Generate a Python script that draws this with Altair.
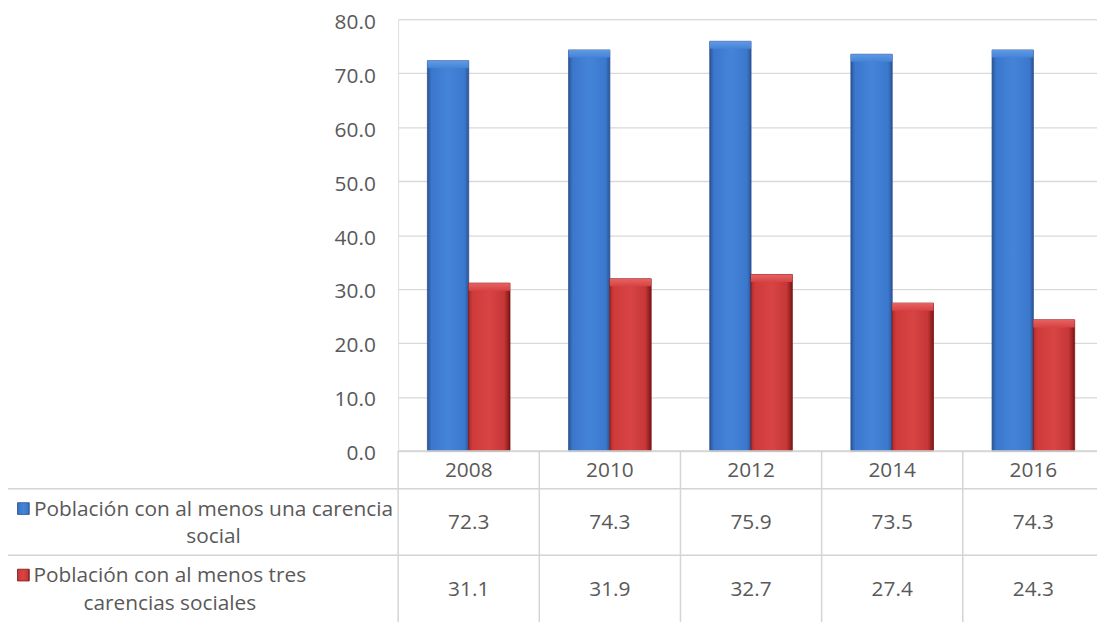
import altair as alt
import pandas as pd

# ---------------- data ----------------
years = ["2008", "2010", "2012", "2014", "2016"]
series_keys = ["s1", "s2"]
series_labels = [
    "Población con al menos una carencia\nsocial",
    "Población con al menos tres\ncarencias sociales",
]
values_una = [72.3, 74.3, 75.9, 73.5, 74.3]
values_tres = [31.1, 31.9, 32.7, 27.4, 24.3]
y_ticks = [0, 10, 20, 30, 40, 50, 60, 70, 80]

rows = []
for yr, a, b in zip(years, values_una, values_tres):
    rows.append({"year": yr, "serie": "s1", "value": a, "label": f"{a:.1f}"})
    rows.append({"year": yr, "serie": "s2", "value": b, "label": f"{b:.1f}"})
df = pd.DataFrame(rows)
df_years = pd.DataFrame({"year": years})

# ---------------- style ----------------
FONT = "Open Sans"
TXT = "#595959"
GRID = "#d9d9d9"
FS = 21

W, H = 704, 435
STEP_RANGE = [0, 711]

blue_body = {
    "gradient": "linear", "x1": 0, "x2": 1, "y1": 0, "y2": 0,
    "stops": [
        {"offset": 0.0, "color": "#2a5596"},
        {"offset": 0.1, "color": "#3b77cc"},
        {"offset": 0.5, "color": "#4484d8"},
        {"offset": 0.9, "color": "#3b78cd"},
        {"offset": 1.0, "color": "#2b5598"},
    ],
}
blue_cap = {
    "gradient": "linear", "x1": 0, "x2": 0, "y1": 0, "y2": 1,
    "stops": [
        {"offset": 0.0, "color": "#6199e4"},
        {"offset": 1.0, "color": "#4483d7"},
    ],
}
red_body = {
    "gradient": "linear", "x1": 0, "x2": 1, "y1": 0, "y2": 0,
    "stops": [
        {"offset": 0.0, "color": "#b42a2a"},
        {"offset": 0.1, "color": "#cf3b3b"},
        {"offset": 0.5, "color": "#d84444"},
        {"offset": 0.86, "color": "#c63737"},
        {"offset": 1.0, "color": "#7d1515"},
    ],
}
red_cap = {
    "gradient": "linear", "x1": 0, "x2": 0, "y1": 0, "y2": 1,
    "stops": [
        {"offset": 0.0, "color": "#e86262"},
        {"offset": 1.0, "color": "#d64343"},
    ],
}

x_enc = alt.X(
    "year:N", sort=years, axis=None,
    scale=alt.Scale(range=STEP_RANGE, paddingInner=0, paddingOuter=0),
)
xoff_enc = alt.XOffset(
    "serie:N", sort=series_keys,
    scale=alt.Scale(domain=series_keys, paddingInner=0, paddingOuter=0.709),
)
y_enc = alt.Y(
    "value:Q",
    scale=alt.Scale(domain=[0, 80], nice=False),
    axis=alt.Axis(
        values=y_ticks, format=".1f", title=None, domain=False, ticks=False,
        labelPadding=23, labelOffset=3, labelFont=FONT, labelFontSize=FS,
        labelColor=TXT, gridColor=GRID, gridWidth=1.3,
    ),
)

base = alt.Chart(df)

bars_blue = base.transform_filter(alt.datum.serie == "s1").mark_bar(
    color=blue_body, stroke="#2c4f8c", strokeWidth=0.8
).encode(x=x_enc, xOffset=xoff_enc, y=y_enc)

bars_red = base.transform_filter(alt.datum.serie == "s2").mark_bar(
    color=red_body, stroke="#7a1414", strokeWidth=0.8
).encode(x=x_enc, xOffset=xoff_enc, y=y_enc)

cap_blue = base.transform_filter(alt.datum.serie == "s1").transform_calculate(
    cap="datum.value - 1.4"
).mark_bar(color=blue_cap).encode(
    x=x_enc, xOffset=xoff_enc, y=alt.Y("value:Q"), y2="cap:Q"
)
cap_red = base.transform_filter(alt.datum.serie == "s2").transform_calculate(
    cap="datum.value - 1.4"
).mark_bar(color=red_cap).encode(
    x=x_enc, xOffset=xoff_enc, y=alt.Y("value:Q"), y2="cap:Q"
)

# ---------------- data table ----------------
Y_TOP = 435      # plot bottom (0 line)
Y_HDR = 473      # bottom of year header row
Y_R1 = 540       # bottom of first series row
Y_BOT = 610      # bottom edge (cropped)
X_LEFT = -394    # left border of label column
LINE = "#d4d4d4"

vlines = alt.Chart(df_years).mark_rule(color=LINE, strokeWidth=1.5).encode(
    x=alt.X("year:N", sort=years, bandPosition=0),
    y=alt.value(Y_TOP), y2=alt.value(Y_BOT),
)
vline_left = alt.Chart(df_years.head(1)).mark_rule(color=LINE, strokeWidth=1.5).encode(
    x=alt.value(X_LEFT), y=alt.value(Y_HDR), y2=alt.value(Y_BOT),
)
hline_top = alt.Chart(df_years.head(1)).mark_rule(color=LINE, strokeWidth=1.5).encode(
    x=alt.value(0), x2=alt.value(W), y=alt.value(Y_TOP),
)
hline_hdr = alt.Chart(df_years.head(1)).mark_rule(color=LINE, strokeWidth=1.5).encode(
    x=alt.value(X_LEFT), x2=alt.value(W), y=alt.value(Y_HDR),
)
hline_r1 = alt.Chart(df_years.head(1)).mark_rule(color=LINE, strokeWidth=1.5).encode(
    x=alt.value(X_LEFT), x2=alt.value(W), y=alt.value(Y_R1),
)

txt = dict(font=FONT, fontSize=FS, color=TXT, baseline="middle", align="center")

year_text = alt.Chart(df_years).mark_text(**txt).encode(
    x=alt.X("year:N", sort=years), y=alt.value(455), text="year:N"
)
val_una = base.transform_filter(alt.datum.serie == "s1").mark_text(**txt).encode(
    x=alt.X("year:N", sort=years), y=alt.value(508), text="label:N"
)
val_tres = base.transform_filter(alt.datum.serie == "s2").mark_text(**txt).encode(
    x=alt.X("year:N", sort=years), y=alt.value(575), text="label:N"
)

lab1 = alt.Chart(pd.DataFrame({"t": [series_labels[0]]})).mark_text(
    lineBreak="\n", lineHeight=28, **txt
).encode(x=alt.value(-186), y=alt.value(494), text="t:N")
lab2 = alt.Chart(pd.DataFrame({"t": [series_labels[1]]})).mark_text(
    lineBreak="\n", lineHeight=28, **txt
).encode(x=alt.value(-230), y=alt.value(561), text="t:N")

mk1 = alt.Chart(pd.DataFrame({"t": ["s1"]})).mark_square(
    size=140, color=blue_body, stroke="#2c4f8c", strokeWidth=0.8, opacity=1
).encode(x=alt.value(-377.5), y=alt.value(493))
mk2 = alt.Chart(pd.DataFrame({"t": ["s2"]})).mark_square(
    size=140, color=red_body, stroke="#7a1414", strokeWidth=0.8, opacity=1
).encode(x=alt.value(-377.5), y=alt.value(560))

chart = alt.layer(
    bars_blue, bars_red, cap_blue, cap_red,
    vlines, vline_left, hline_top, hline_hdr, hline_r1,
    year_text, val_una, val_tres, lab1, lab2, mk1, mk2,
).properties(
    width=W, height=H,
    padding={"left": 393, "top": 9, "right": 0, "bottom": 170},
    autosize=alt.AutoSizeParams(type="none"),
).configure_view(stroke=None).configure(background="white")

chart.save("out.html", embed_options={"renderer": "svg", "actions": False})
